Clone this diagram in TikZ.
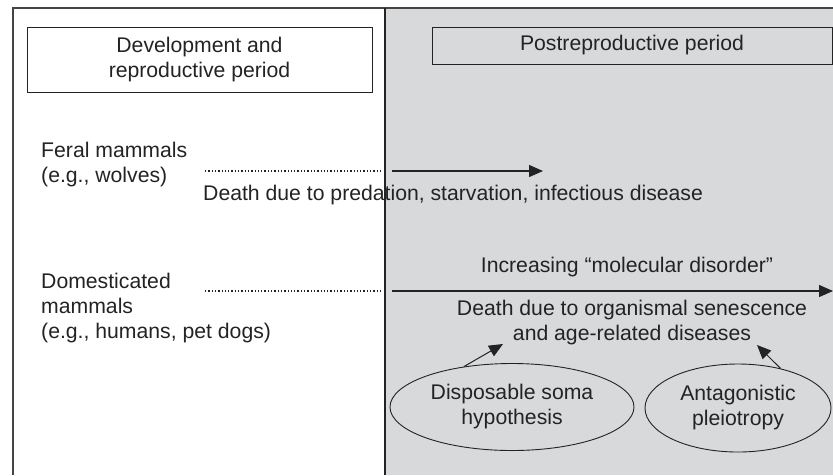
\documentclass[tikz,border=0pt]{standalone}
\usepackage{fontspec}
\setmainfont{Liberation Sans}
\usetikzlibrary{shapes.geometric,arrows.meta}
\definecolor{bggray}{RGB}{216,217,219}
\definecolor{ink}{RGB}{35,35,35}
\begin{document}
\begin{tikzpicture}[x=1pt,y=-1pt,
  txt/.style={font=\fontsize{21.2}{25}\selectfont, text=ink, inner sep=0pt},
  box/.style={draw=ink, line width=0.9pt, txt, align=center},
  oval/.style={ellipse, draw=ink, line width=0.9pt, txt, align=center, inner sep=0pt},
  dots/.style={ink, line width=1.3pt, dash pattern=on 1.3pt off 2pt},
  arr/.style={ink, line width=1.3pt, -{Triangle[length=14pt,width=12pt]}},
]
\useasboundingbox (0,0) rectangle (833,475);
\fill[bggray] (385,8) rectangle (833,475);
\draw[ink!85, line width=1.5pt] (13,475) -- (13,8) -- (833,8);
\draw[ink, line width=1.2pt] (385,8) -- (385,475);

\node[box, minimum width=345pt, minimum height=65pt] (devbox) at (199.5,59.5) {Development and\\reproductive period};
\node[box, minimum width=400pt, minimum height=37pt] (postbox) at (632,45.5) {Postreproductive period};

\node[txt, anchor=west, align=left] (feral) at (41,165) {Feral mammals\\(e.g., wolves)};
\node[txt, anchor=west] (death1) at (203,195) {Death due to predation, starvation, infectious disease};

\node[txt, anchor=west, align=left] (dom) at (41,308) {Domesticated\\mammals\\(e.g., humans, pet dogs)};
\node[txt] (incr) at (627,267) {Increasing “molecular disorder”};
\node[txt, align=center] (death2) at (632,323) {Death due to organismal senescence\\and age-related diseases};

\node[oval, minimum width=244pt, minimum height=87pt] (soma) at (512,407) {Disposable soma\\hypothesis};
\node[oval, minimum width=186pt, minimum height=88pt] (anta) at (738,408) {Antagonistic\\pleiotropy};

\coordinate (f1) at (205,171);
\coordinate (f2) at (382,171);
\coordinate (f3) at (392,171);
\coordinate (f4) at (543,171);
\coordinate (d1) at (205,291);
\coordinate (d2) at (382,291);
\coordinate (d3) at (392,291);
\coordinate (d4) at (833,291);
\coordinate (t1) at (503,344);
\coordinate (t2) at (757,345);

\draw[dots] (f1) -- (f2);
\draw[arr] (f3) -- (f4);
\draw[dots] (d1) -- (d2);
\draw[arr] (d3) -- (d4);
\draw[arr, line width=1pt] (soma.140) -- (t1);
\draw[arr, line width=1pt] (anta.43) -- (t2);
\end{tikzpicture}
\end{document}
